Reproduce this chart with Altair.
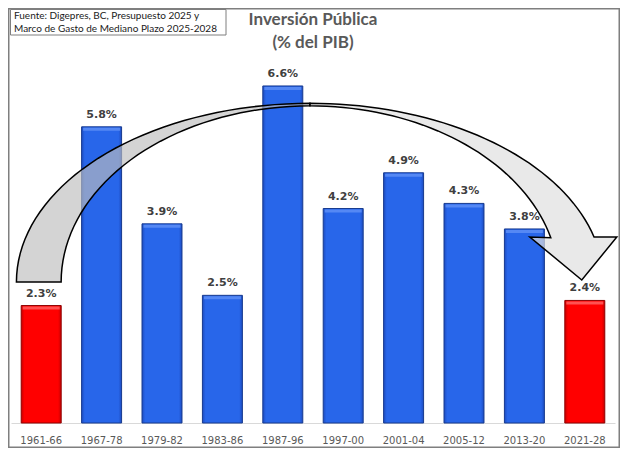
import numpy as np
import pandas as pd
import altair as alt

# ---- data ----
periods = ["1961-66", "1967-78", "1979-82", "1983-86", "1987-96",
           "1997-00", "2001-04", "2005-12", "2013-20", "2021-28"]
values = [2.3, 5.8, 3.9, 2.5, 6.6, 4.2, 4.9, 4.3, 3.8, 2.4]
red_periods = ["1961-66", "2021-28"]

title_lines = ["Inversión Pública", "(% del PIB)"]
source_lines = ["Fuente: Digepres, BC, Presupuesto 2025 y",
                "Marco de Gasto de Mediano Plazo 2025-2028"]

df = pd.DataFrame({"periodo": periods, "valor": values})
df["label"] = [f"{v:.1f}%" for v in values]
df["rojo"] = df["periodo"].isin(red_periods)

W, H = 604, 383
Y_DOMAIN = [0, 7.5]

# ---- curved arrow annotation (in data units: x = bar index, y = % of GDP) ----
CX, CY = 4.45, 2.76
OUT_A, OUT_B = 4.86, 3.50
IN_A, IN_B = 4.12, 3.45
END = np.radians(14.6)
HEAD_L, HEAD_R, TIP_X, TIP_Y = 8.09, 9.53, 8.95, 2.80

t_left = np.linspace(0, np.pi / 2, 40)
left_x = np.concatenate([CX - OUT_A * np.cos(t_left), CX - IN_A * np.cos(t_left[::-1])])
left_y = np.concatenate([CY + OUT_B * np.sin(t_left), CY + IN_B * np.sin(t_left[::-1])])
left_poly = pd.DataFrame({"x": left_x, "y": left_y, "k": np.arange(len(left_x))})

t_right = np.linspace(np.pi / 2, END, 40)
y_end = CY + OUT_B * np.sin(END)
right_x = np.concatenate([CX + OUT_A * np.cos(t_right),
                          [HEAD_R, TIP_X, HEAD_L],
                          CX + IN_A * np.cos(t_right[::-1])])
right_y = np.concatenate([CY + OUT_B * np.sin(t_right),
                          [y_end, TIP_Y, y_end],
                          CY + IN_B * np.sin(t_right[::-1])])
right_poly = pd.DataFrame({"x": right_x, "y": right_y, "k": np.arange(len(right_x))})

x_band = alt.X("periodo:N", sort=periods, title=None,
               scale=alt.Scale(paddingInner=0.338, paddingOuter=0.169),
               axis=alt.Axis(labelAngle=0, ticks=False, tickSize=0, labelPadding=12,
                             labelFont="DejaVu Sans", labelFontSize=10,
                             labelColor="#595959", domainColor="#d9d9d9",
                             domainWidth=1, grid=False))
y_q = alt.Y("valor:Q", scale=alt.Scale(domain=Y_DOMAIN), axis=None, title=None)

blue_grad = alt.Gradient(gradient="linear", x1=0, x2=1, y1=0, y2=0, stops=[
    alt.GradientStop(color="#1d4cc0", offset=0),
    alt.GradientStop(color="#2866ea", offset=0.08),
    alt.GradientStop(color="#2866ea", offset=0.92),
    alt.GradientStop(color="#1d4cc0", offset=1)])
red_grad = alt.Gradient(gradient="linear", x1=0, x2=1, y1=0, y2=0, stops=[
    alt.GradientStop(color="#c80000", offset=0),
    alt.GradientStop(color="#ff0000", offset=0.08),
    alt.GradientStop(color="#ff0000", offset=0.92),
    alt.GradientStop(color="#c80000", offset=1)])

base = alt.Chart(df)
bars_blue = base.transform_filter("!datum.rojo").mark_bar(
    color=blue_grad, stroke="#173a8f", strokeWidth=1).encode(x=x_band, y=y_q)
bars_red = base.transform_filter("datum.rojo").mark_bar(
    color=red_grad, stroke="#8f0000", strokeWidth=1).encode(x=x_band, y=y_q)
bevel_blue = base.transform_filter("!datum.rojo").mark_tick(
    color="#5a8cf5", thickness=3, size=37, yOffset=2.5, opacity=0.9).encode(x=x_band, y=y_q)
bevel_red = base.transform_filter("datum.rojo").mark_tick(
    color="#ff5a5a", thickness=3, size=37, yOffset=2.5, opacity=0.9).encode(x=x_band, y=y_q)
labels = base.mark_text(dy=-12, font="DejaVu Sans", fontSize=11, fontWeight="bold",
                        color="#404040").encode(x=x_band, y=y_q, text="label:N")

x_arrow = alt.X("x:Q", scale=alt.Scale(domain=[-0.5, 9.5], nice=False, zero=False), axis=None)
y_arrow = alt.Y("y:Q", scale=alt.Scale(domain=Y_DOMAIN), axis=None)
arrow_left = alt.Chart(left_poly).mark_line(
    interpolate="linear-closed", fill="#bdbdbd", fillOpacity=0.65,
    stroke="black", strokeWidth=1.5).encode(x=x_arrow, y=y_arrow, order="k:Q")
arrow_right = alt.Chart(right_poly).mark_line(
    interpolate="linear-closed", fill="#e0e0e0", fillOpacity=0.7,
    stroke="black", strokeWidth=1.5).encode(x=x_arrow, y=y_arrow, order="k:Q")

# ---- decorations: frame, source box, title ----
deco = alt.Chart(pd.DataFrame({"d": [0]}))
frame = deco.mark_rect(fill=None, stroke="#7f7f7f", strokeWidth=1.5).encode(
    x=alt.value(-2.25), x2=alt.value(W + 4.25), y=alt.value(-31.25), y2=alt.value(H + 24.25))
src_box = deco.mark_rect(fill="white", stroke="#7f7f7f", strokeWidth=1).encode(
    x=alt.value(-0.5), x2=alt.value(215), y=alt.value(-30.5), y2=alt.value(-5))

line_y = alt.Y("i:Q", axis=None)
src_df = pd.DataFrame({"t": source_lines, "i": [0, 1]})
src_txt = alt.Chart(src_df).mark_text(align="left", baseline="middle", font="Lato",
                                      fontSize=10, color="#1a1a1a").encode(
    x=alt.value(3),
    y=alt.Y("i:Q", axis=None, scale=alt.Scale(domain=[0, 1], range=[-24, -11])),
    text="t:N")
ttl_df = pd.DataFrame({"t": title_lines, "i": [0, 1]})
ttl_txt = alt.Chart(ttl_df).mark_text(align="center", baseline="middle", font="Lato",
                                      fontSize=17, fontWeight="bold", color="#595959").encode(
    x=alt.value(302),
    y=alt.Y("i:Q", axis=None, scale=alt.Scale(domain=[0, 1], range=[-20, 3])),
    text="t:N")

main = alt.layer(bars_blue, bars_red, bevel_blue, bevel_red, labels).resolve_scale(y="shared")
chart = alt.layer(
    frame, main, arrow_left, arrow_right,
    src_box, src_txt, ttl_txt
).resolve_scale(x="independent", y="independent").properties(
    width=W, height=H,
    autosize=alt.AutoSizeParams(type="none"),
    padding={"left": 3, "top": 32, "right": 5, "bottom": 25},
    background="white"
).configure_view(stroke=None)

chart.save("out.html", embed_options={"renderer": "svg", "actions": False})
